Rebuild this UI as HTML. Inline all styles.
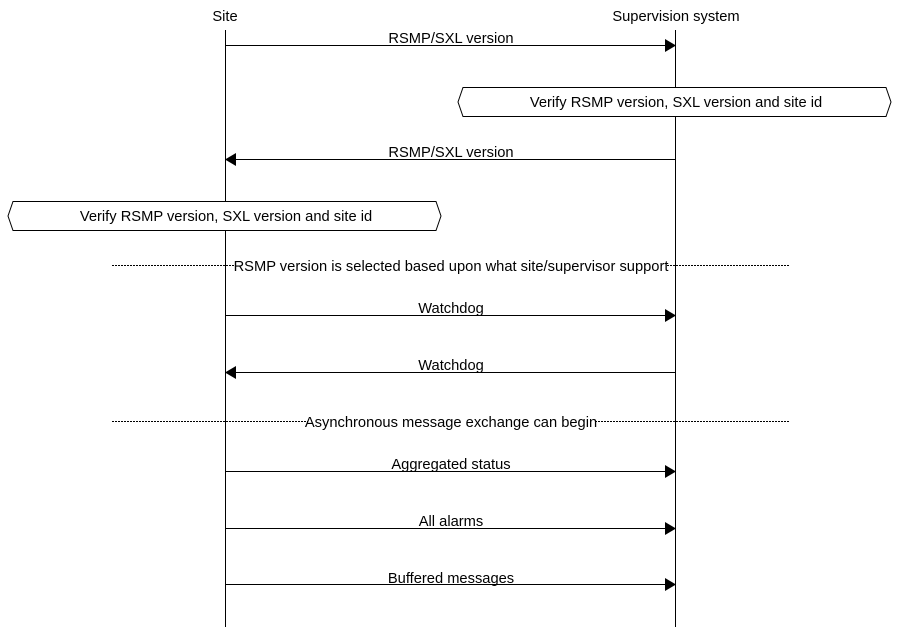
<!DOCTYPE html>
<html><head><style>body{margin:0;background:#fff}</style></head><body>
<svg width="900" height="627" xmlns="http://www.w3.org/2000/svg" font-family="Liberation Sans, sans-serif" font-size="14.7" text-anchor="middle">
<rect width="900" height="627" fill="#fff"/>
<text x="225" y="21">Site</text>
<text x="676" y="21">Supervision system</text>
<line x1="225.5" y1="30" x2="225.5" y2="627" stroke="#000"/>
<line x1="675.5" y1="30" x2="675.5" y2="627" stroke="#000"/>
<g stroke="#000">
<line x1="225" y1="45.5" x2="666" y2="45.5"/>
<line x1="235" y1="159.5" x2="675" y2="159.5"/>
<line x1="225" y1="315.5" x2="666" y2="315.5"/>
<line x1="235" y1="372.5" x2="675" y2="372.5"/>
<line x1="225" y1="471.5" x2="666" y2="471.5"/>
<line x1="225" y1="528.5" x2="666" y2="528.5"/>
<line x1="225" y1="584.5" x2="666" y2="584.5"/>
</g>
<g fill="#000">
<polygon points="665,39 676,45.5 665,52"/>
<polygon points="236,153 225,159.5 236,166"/>
<polygon points="665,309 676,315.5 665,322"/>
<polygon points="236,366 225,372.5 236,379"/>
<polygon points="665,465 676,471.5 665,478"/>
<polygon points="665,522 676,528.5 665,535"/>
<polygon points="665,578 676,584.5 665,591"/>
</g>
<text x="451" y="43">RSMP/SXL version</text>
<text x="451" y="157">RSMP/SXL version</text>
<text x="451" y="313">Watchdog</text>
<text x="451" y="370">Watchdog</text>
<text x="451" y="469">Aggregated status</text>
<text x="451" y="526">All alarms</text>
<text x="451" y="583">Buffered messages</text>
<polygon points="463,87.5 886,87.5 891,102 886,116.5 463,116.5 458,102" fill="#fff" stroke="#000"/>
<text x="676" y="107">Verify RSMP version, SXL version and site id</text>
<polygon points="13,201.5 436,201.5 441,216 436,230.5 13,230.5 8,216" fill="#fff" stroke="#000"/>
<text x="226" y="221">Verify RSMP version, SXL version and site id</text>
<g stroke="#000" stroke-dasharray="2,1">
<line x1="112" y1="265.5" x2="789" y2="265.5"/>
<line x1="112" y1="421.5" x2="789" y2="421.5"/>
</g>
<rect x="236" y="257" width="430" height="17" fill="#fff"/>
<text x="451" y="271">RSMP version is selected based upon what site/supervisor support</text>
<rect x="308" y="413" width="287" height="17" fill="#fff"/>
<text x="451" y="427">Asynchronous message exchange can begin</text>
</svg>
</body></html>
